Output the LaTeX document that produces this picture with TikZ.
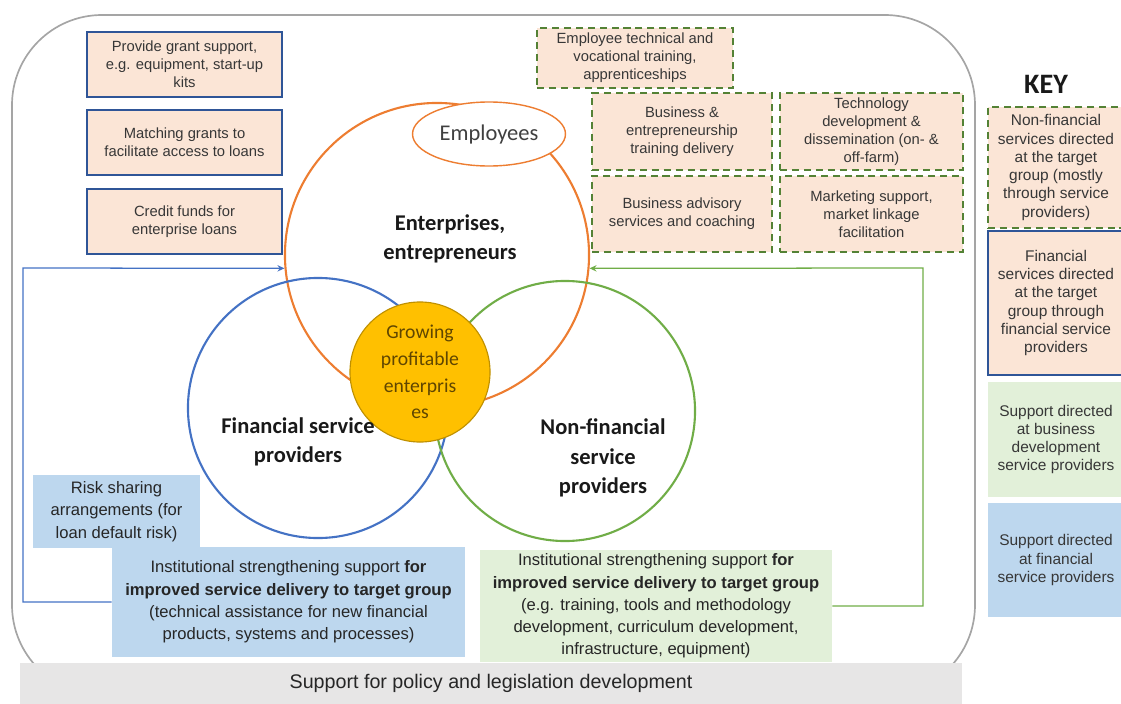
\documentclass[tikz,border=0pt]{standalone}
\usepackage{fontspec}
\setmainfont{Liberation Sans}
\newfontfamily\calib{Carlito}
\usetikzlibrary{shapes.geometric, arrows.meta, positioning}
\definecolor{peachfill}{RGB}{251,229,214}
\definecolor{finblue}{RGB}{47,85,151}
\definecolor{circblue}{RGB}{68,114,196}
\definecolor{nfgreen}{RGB}{84,130,53}
\definecolor{circgreen}{RGB}{112,173,71}
\definecolor{entorange}{RGB}{237,125,49}
\definecolor{goldfill}{RGB}{255,192,0}
\definecolor{goldline}{RGB}{191,144,0}
\definecolor{goldtext}{RGB}{96,70,0}
\definecolor{greenfill}{RGB}{226,240,217}
\definecolor{bluefill}{RGB}{189,215,238}
\definecolor{barfill}{RGB}{231,230,230}
\definecolor{frameline}{RGB}{165,165,165}
\definecolor{boxtext}{RGB}{55,55,55}

\begin{document}
\begin{tikzpicture}[x=0.025cm, y=-0.025cm,
    smallbox/.style={font=\fontsize{10.5}{12.8}\selectfont, text=boxtext, align=center, inner sep=0pt},
    finbox/.style={smallbox, draw=finblue, line width=1.4pt, fill=peachfill},
    nfbox/.style={smallbox, draw=nfgreen, line width=1.4pt, dash pattern=on 5pt off 3.5pt, fill=peachfill},
    keytext/.style={font=\fontsize{11}{13}\selectfont, text=boxtext, align=center, inner sep=0pt},
    instbox/.style={font=\fontsize{11.8}{15.8}\selectfont, text=black!85, align=center, inner sep=0pt},
    venn/.style={circle, draw, line width=1.5pt, inner sep=0pt},
    vennlabel/.style={font=\calib\bfseries\fontsize{16}{21}\selectfont, align=center, text=black!90},
    feedback/.style={line width=0.9pt, -{Stealth[length=5pt,width=4.5pt]}}
]
    \useasboundingbox (0,0) rectangle (1121,704);

    % Cadre
    \draw[frameline, line width=1.2pt, rounded corners=2.25cm] (12,15) rectangle (975,695);
    \node[fill=barfill, minimum width=23.55cm, minimum height=1.025cm, font=\fontsize{14}{16}\selectfont, text=black!85] (policy) at (491,683.5) {Support for policy and legislation development};

    % Cercles
    \node[venn, draw=entorange, minimum size=7.6cm] (ent) at (437,255) {};
    \node[venn, draw=circblue, minimum size=6.5cm] (fin) at (318,408) {};
    \node[venn, draw=circgreen, minimum size=6.5cm] (nonfin) at (565,411) {};
    \node[circle, fill=goldfill, draw=goldline, line width=0.8pt, minimum size=3.5cm, inner sep=0pt, font=\calib\fontsize{14}{19}\selectfont, text=goldtext, align=center] (grow) at (420,372) {Growing\\profitable\\enterpris\\es};
    \node[ellipse, draw=entorange, line width=1pt, fill=white, minimum width=3.35cm, minimum height=1.6cm, font=\calib\fontsize{16}{19}\selectfont, text=black!75] (emp) at (489,134) {Employees};

    \node[vennlabel] (entlab) at (450,239) {Enterprises,\\entrepreneurs};
    \node[vennlabel] (finlab) at (298,442) {Financial service\\providers};
    \node[vennlabel] (nonfinlab) at (603,458) {Non-financial\\service\\providers};

    % Services financiers
    \node[finbox, minimum width=4.875cm, minimum height=1.625cm] (grant) at (184.5,64.5) {Provide grant support,\\e.g. equipment, start-up\\kits};
    \node[finbox, minimum width=4.875cm, minimum height=1.625cm] (match) at (184.5,142.5) {Matching grants to\\facilitate access to loans};
    \node[finbox, minimum width=4.875cm, minimum height=1.625cm] (credit) at (184.5,221.5) {Credit funds for\\enterprise loans};

    % Services non financiers
    \node[nfbox, minimum width=4.9cm, minimum height=1.5cm] (voc) at (635,58) {Employee technical and\\vocational training,\\apprenticeships};
    \node[nfbox, minimum width=4.5cm, minimum height=1.925cm] (bized) at (682,131.5) {Business \&\\entrepreneurship\\training delivery};
    \node[nfbox, minimum width=4.575cm, minimum height=1.925cm] (tech) at (871.5,131.5) {Technology\\development \&\\dissemination (on- \&\\off-farm)};
    \node[nfbox, minimum width=4.5cm, minimum height=1.9cm] (advis) at (682,214) {Business advisory\\services and coaching};
    \node[nfbox, minimum width=4.575cm, minimum height=1.9cm] (market) at (871.5,214) {Marketing support,\\market linkage\\facilitation};

    % Appui aux prestataires
    \node[instbox, fill=bluefill, minimum width=4.175cm, minimum height=1.825cm] (risk) at (116.5,511.5) {Risk sharing\\arrangements (for\\loan default risk)};
    \node[instbox, fill=bluefill, minimum width=8.825cm, minimum height=2.725cm] (instfin) at (288.5,602) {Institutional strengthening support \textbf{for}\\\textbf{improved service delivery to target group}\\(technical assistance for new financial\\products, systems and processes)};
    \node[instbox, fill=greenfill, minimum width=8.8cm, minimum height=2.775cm] (instnon) at (656,606) {Institutional strengthening support \textbf{for}\\\textbf{improved service delivery to target group}\\(e.g. training, tools and methodology\\development, curriculum development,\\infrastructure, equipment)};

    % Retours
    \draw[feedback, circblue] (instfin.west) -| (23,268) -- (ent.185);
    \draw[feedback, circgreen] (instnon.east) -| (923,268) -- (ent.355);

    % Legende
    \node[font=\calib\bfseries\fontsize{20}{24}\selectfont, text=black!90] (keytitle) at (1046,84) {KEY};
    \node[nfbox, keytext, minimum width=3.4cm, minimum height=3.025cm] (keynf) at (1056,167.5) {Non-financial\\services directed\\at the target\\group (mostly\\through service\\providers)};
    \node[finbox, keytext, minimum width=3.4cm, minimum height=3.6cm] (keyfin) at (1056,303) {Financial\\services directed\\at the target\\group through\\financial service\\providers};
    \node[keytext, fill=greenfill, minimum width=3.4cm, minimum height=2.875cm] (keybds) at (1056,439.5) {Support directed\\at business\\development\\service providers};
    \node[keytext, fill=bluefill, minimum width=3.4cm, minimum height=2.85cm] (keyfsp) at (1056,560) {Support directed\\at financial\\service providers};
\end{tikzpicture}
\end{document}
